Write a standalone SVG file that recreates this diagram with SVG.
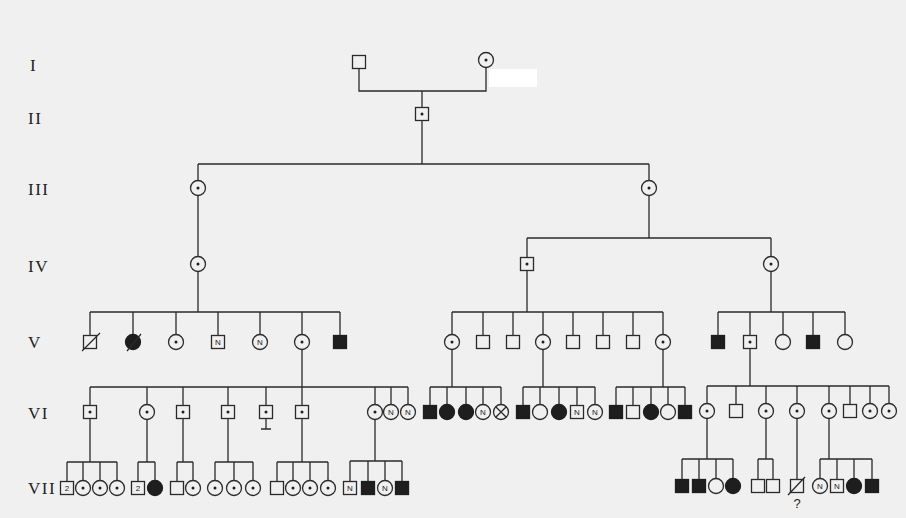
<svg xmlns="http://www.w3.org/2000/svg" width="906" height="518" viewBox="0 0 906 518">
<style>
.bg{fill:#f0f0f0}
.ln{fill:none;stroke:#2a2a2a;stroke-width:1.3}
.o{fill:#f0f0f0;stroke:#2a2a2a;stroke-width:1.3}
.f{fill:#1e1e1e;stroke:#1e1e1e;stroke-width:1.3}
.d{fill:#1e1e1e}
.gen{font-family:"Liberation Serif","Times New Roman",serif;font-size:17px;fill:#222;letter-spacing:1.5px}
.n{font-family:"Liberation Sans",Arial,sans-serif;font-size:8px;fill:#222;text-anchor:middle}
.q{font-family:"Liberation Sans",Arial,sans-serif;font-size:13px;fill:#222;text-anchor:middle}
</style>
<rect class="bg" x="0" y="0" width="906" height="518"/>
<rect x="489" y="69" width="48" height="18" fill="#ffffff"/>

<g id="gen-labels">
<text class="gen" x="30" y="71">I</text>
<text class="gen" x="28" y="124">II</text>
<text class="gen" x="28" y="195">III</text>
<text class="gen" x="28" y="272">IV</text>
<text class="gen" x="28" y="348">V</text>
<text class="gen" x="28" y="419">VI</text>
<text class="gen" x="28" y="494">VII</text>
</g>

<g id="connectors" class="ln">
<path d="M359,62 V91 H486 V60 M422,91 V164 M198,164 H649 M198,164 V188 M649,164 V188"/>
<path d="M198,188 V264 M198,264 V312 M90,312 H340 M90,312 V342 M133,312 V342 M176,312 V342 M218,312 V342 M260,312 V342 M302,312 V342 M340,312 V342"/>
<path d="M649,188 V238 M527,238 H771 M527,238 V264 M771,238 V264"/>
<path d="M527,264 V312 M452,312 H663 M452,312 V342 M483,312 V342 M513,312 V342 M543,312 V342 M573,312 V342 M603,312 V342 M633,312 V342 M663,312 V342"/>
<path d="M771,264 V312 M718,312 H845 M718,312 V342 M750,312 V342 M783,312 V342 M813,312 V342 M845,312 V342"/>
<path d="M302,342 V387 M90,387 H408 M90,387 V412 M147,387 V412 M183,387 V412 M228,387 V412 M266,387 V412 M302,387 V412 M375,387 V412 M391,387 V412 M408,387 V412"/>
<path d="M452,342 V387 M430,387 H501 M430,387 V412 M447,387 V412 M466,387 V412 M483,387 V412 M501,387 V412"/>
<path d="M543,342 V387 M523,387 H595 M523,387 V412 M540,387 V412 M559,387 V412 M577,387 V412 M595,387 V412"/>
<path d="M663,342 V387 M616,387 H685 M616,387 V412 M633,387 V412 M651,387 V412 M668,387 V412 M685,387 V412"/>
<path d="M750,342 V386 M707,386 H889 M707,386 V411 M736,386 V411 M766,386 V411 M797,386 V411 M829,386 V411 M850,386 V411 M870,386 V411 M889,386 V411"/>
<path d="M90,412 V462 M67,462 H117 M67,462 V488 M83,462 V488 M100,462 V488 M117,462 V488"/>
<path d="M147,412 V462 M138,462 H155 M138,462 V488 M155,462 V488"/>
<path d="M183,412 V462 M177,462 H193 M177,462 V488 M193,462 V488"/>
<path d="M228,412 V462 M215,462 H253 M215,462 V488 M234,462 V488 M253,462 V488"/>
<path d="M266,412 V429 M261,429 H271"/>
<path d="M302,412 V462 M277,462 H328 M277,462 V488 M293,462 V488 M310,462 V488 M328,462 V488"/>
<path d="M375,412 V461 M350,461 H402 M350,461 V488 M368,461 V488 M385,461 V488 M402,461 V488"/>
<path d="M707,411 V459 M682,459 H733 M682,459 V486 M699,459 V486 M716,459 V486 M733,459 V486"/>
<path d="M766,411 V459 M758,459 H773 M758,459 V486 M773,459 V486"/>
<path d="M797,411 V486"/>
<path d="M829,411 V459 M820,459 H872 M820,459 V486 M837,459 V486 M854,459 V486 M872,459 V486"/>
</g>

<!-- Generation I -->
<g id="I-1"><rect class="o" x="352.5" y="55.5" width="13" height="13"/></g>
<g id="I-2"><circle class="o" cx="486" cy="60" r="7.5"/><circle class="d" cx="486" cy="60" r="1.5"/></g>
<!-- Generation II -->
<g id="II-1"><rect class="o" x="415.5" y="107.5" width="13" height="13"/><circle class="d" cx="422" cy="114" r="1.5"/></g>
<!-- Generation III -->
<g id="III-1"><circle class="o" cx="198" cy="188" r="7.5"/><circle class="d" cx="198" cy="188" r="1.5"/></g>
<g id="III-2"><circle class="o" cx="649" cy="188" r="7.5"/><circle class="d" cx="649" cy="188" r="1.5"/></g>
<!-- Generation IV -->
<g id="IV-1"><circle class="o" cx="198" cy="264" r="7.5"/><circle class="d" cx="198" cy="264" r="1.5"/></g>
<g id="IV-2"><rect class="o" x="520.5" y="257.5" width="13" height="13"/><circle class="d" cx="527" cy="264" r="1.5"/></g>
<g id="IV-3"><circle class="o" cx="771" cy="264" r="7.5"/><circle class="d" cx="771" cy="264" r="1.5"/></g>
<!-- Generation V -->
<g id="V-1"><rect class="o" x="83.5" y="335.5" width="13" height="13"/><line class="ln" x1="82" y1="351" x2="100" y2="333"/></g>
<g id="V-2"><circle class="f" cx="133" cy="342" r="7.5"/><line class="ln" x1="127" y1="351" x2="141" y2="334"/></g>
<g id="V-3"><circle class="o" cx="176" cy="342" r="7.5"/><circle class="d" cx="176" cy="342" r="1.5"/></g>
<g id="V-4"><rect class="o" x="211.5" y="335.5" width="13" height="13"/><text class="n" x="218" y="345">N</text></g>
<g id="V-5"><circle class="o" cx="260" cy="342" r="7.5"/><text class="n" x="260" y="345">N</text></g>
<g id="V-6"><circle class="o" cx="302" cy="342" r="7.5"/><circle class="d" cx="302" cy="342" r="1.5"/></g>
<g id="V-7"><rect class="f" x="333.5" y="335.5" width="13" height="13"/></g>
<g id="V-8"><circle class="o" cx="452" cy="342" r="7.5"/><circle class="d" cx="452" cy="342" r="1.5"/></g>
<g id="V-9"><rect class="o" x="476.5" y="335.5" width="13" height="13"/></g>
<g id="V-10"><rect class="o" x="506.5" y="335.5" width="13" height="13"/></g>
<g id="V-11"><circle class="o" cx="543" cy="342" r="7.5"/><circle class="d" cx="543" cy="342" r="1.5"/></g>
<g id="V-12"><rect class="o" x="566.5" y="335.5" width="13" height="13"/></g>
<g id="V-13"><rect class="o" x="596.5" y="335.5" width="13" height="13"/></g>
<g id="V-14"><rect class="o" x="626.5" y="335.5" width="13" height="13"/></g>
<g id="V-15"><circle class="o" cx="663" cy="342" r="7.5"/><circle class="d" cx="663" cy="342" r="1.5"/></g>
<g id="V-16"><rect class="f" x="711.5" y="335.5" width="13" height="13"/></g>
<g id="V-17"><rect class="o" x="743.5" y="335.5" width="13" height="13"/><circle class="d" cx="750" cy="342" r="1.5"/></g>
<g id="V-18"><circle class="o" cx="783" cy="342" r="7.5"/></g>
<g id="V-19"><rect class="f" x="806.5" y="335.5" width="13" height="13"/></g>
<g id="V-20"><circle class="o" cx="845" cy="342" r="7.5"/></g>
<!-- Generation VI -->
<g id="VI-1"><rect class="o" x="83.5" y="405.5" width="13" height="13"/><circle class="d" cx="90" cy="412" r="1.5"/></g>
<g id="VI-2"><circle class="o" cx="147" cy="412" r="7.5"/><circle class="d" cx="147" cy="412" r="1.5"/></g>
<g id="VI-3"><rect class="o" x="176.5" y="405.5" width="13" height="13"/><circle class="d" cx="183" cy="412" r="1.5"/></g>
<g id="VI-4"><rect class="o" x="221.5" y="405.5" width="13" height="13"/><circle class="d" cx="228" cy="412" r="1.5"/></g>
<g id="VI-5"><rect class="o" x="259.5" y="405.5" width="13" height="13"/><circle class="d" cx="266" cy="412" r="1.5"/></g>
<g id="VI-6"><rect class="o" x="295.5" y="405.5" width="13" height="13"/><circle class="d" cx="302" cy="412" r="1.5"/></g>
<g id="VI-7"><circle class="o" cx="375" cy="412" r="7.5"/><circle class="d" cx="375" cy="412" r="1.5"/></g>
<g id="VI-8"><circle class="o" cx="391" cy="412" r="7.5"/><text class="n" x="391" y="415">N</text></g>
<g id="VI-9"><circle class="o" cx="408" cy="412" r="7.5"/><text class="n" x="408" y="415">N</text></g>
<g id="VI-10"><rect class="f" x="423.5" y="405.5" width="13" height="13"/></g>
<g id="VI-11"><circle class="f" cx="447" cy="412" r="7.5"/></g>
<g id="VI-12"><circle class="f" cx="466" cy="412" r="7.5"/></g>
<g id="VI-13"><circle class="o" cx="483" cy="412" r="7.5"/><text class="n" x="483" y="415">N</text></g>
<g id="VI-14"><circle class="o" cx="501" cy="412" r="7.5"/><path class="ln" d="M495.7,406.7 L506.3,417.3 M506.3,406.7 L495.7,417.3"/></g>
<g id="VI-15"><rect class="f" x="516.5" y="405.5" width="13" height="13"/></g>
<g id="VI-16"><circle class="o" cx="540" cy="412" r="7.5"/></g>
<g id="VI-17"><circle class="f" cx="559" cy="412" r="7.5"/></g>
<g id="VI-18"><rect class="o" x="570.5" y="405.5" width="13" height="13"/><text class="n" x="577" y="415">N</text></g>
<g id="VI-19"><circle class="o" cx="595" cy="412" r="7.5"/><text class="n" x="595" y="415">N</text></g>
<g id="VI-20"><rect class="f" x="609.5" y="405.5" width="13" height="13"/></g>
<g id="VI-21"><rect class="o" x="626.5" y="405.5" width="13" height="13"/></g>
<g id="VI-22"><circle class="f" cx="651" cy="412" r="7.5"/></g>
<g id="VI-23"><circle class="o" cx="668" cy="412" r="7.5"/></g>
<g id="VI-24"><rect class="f" x="678.5" y="405.5" width="13" height="13"/></g>
<g id="VI-25"><circle class="o" cx="707" cy="411" r="7.5"/><circle class="d" cx="707" cy="411" r="1.5"/></g>
<g id="VI-26"><rect class="o" x="729.5" y="404.5" width="13" height="13"/></g>
<g id="VI-27"><circle class="o" cx="766" cy="411" r="7.5"/><circle class="d" cx="766" cy="411" r="1.5"/></g>
<g id="VI-28"><circle class="o" cx="797" cy="411" r="7.5"/><circle class="d" cx="797" cy="411" r="1.5"/></g>
<g id="VI-29"><circle class="o" cx="829" cy="411" r="7.5"/><circle class="d" cx="829" cy="411" r="1.5"/></g>
<g id="VI-30"><rect class="o" x="843.5" y="404.5" width="13" height="13"/></g>
<g id="VI-31"><circle class="o" cx="870" cy="411" r="7.5"/><circle class="d" cx="870" cy="411" r="1.5"/></g>
<g id="VI-32"><circle class="o" cx="889" cy="411" r="7.5"/><circle class="d" cx="889" cy="411" r="1.5"/></g>
<!-- Generation VII -->
<g id="VII-1"><rect class="o" x="60.5" y="481.5" width="13" height="13"/><text class="n" x="67" y="491">2</text></g>
<g id="VII-2"><circle class="o" cx="83" cy="488" r="7.5"/><circle class="d" cx="83" cy="488" r="1.5"/></g>
<g id="VII-3"><circle class="o" cx="100" cy="488" r="7.5"/><circle class="d" cx="100" cy="488" r="1.5"/></g>
<g id="VII-4"><circle class="o" cx="117" cy="488" r="7.5"/><circle class="d" cx="117" cy="488" r="1.5"/></g>
<g id="VII-5"><rect class="o" x="131.5" y="481.5" width="13" height="13"/><text class="n" x="138" y="491">2</text></g>
<g id="VII-6"><circle class="f" cx="155" cy="488" r="7.5"/></g>
<g id="VII-7"><rect class="o" x="170.5" y="481.5" width="13" height="13"/></g>
<g id="VII-8"><circle class="o" cx="193" cy="488" r="7.5"/><circle class="d" cx="193" cy="488" r="1.5"/></g>
<g id="VII-9"><circle class="o" cx="215" cy="488" r="7.5"/><circle class="d" cx="215" cy="488" r="1.5"/></g>
<g id="VII-10"><circle class="o" cx="234" cy="488" r="7.5"/><circle class="d" cx="234" cy="488" r="1.5"/></g>
<g id="VII-11"><circle class="o" cx="253" cy="488" r="7.5"/><circle class="d" cx="253" cy="488" r="1.5"/></g>
<g id="VII-12"><rect class="o" x="270.5" y="481.5" width="13" height="13"/></g>
<g id="VII-13"><circle class="o" cx="293" cy="488" r="7.5"/><circle class="d" cx="293" cy="488" r="1.5"/></g>
<g id="VII-14"><circle class="o" cx="310" cy="488" r="7.5"/><circle class="d" cx="310" cy="488" r="1.5"/></g>
<g id="VII-15"><circle class="o" cx="328" cy="488" r="7.5"/><circle class="d" cx="328" cy="488" r="1.5"/></g>
<g id="VII-16"><rect class="o" x="343.5" y="481.5" width="13" height="13"/><text class="n" x="350" y="491">N</text></g>
<g id="VII-17"><rect class="f" x="361.5" y="481.5" width="13" height="13"/></g>
<g id="VII-18"><circle class="o" cx="385" cy="488" r="7.5"/><text class="n" x="385" y="491">N</text></g>
<g id="VII-19"><rect class="f" x="395.5" y="481.5" width="13" height="13"/></g>
<g id="VII-20"><rect class="f" x="675.5" y="479.5" width="13" height="13"/></g>
<g id="VII-21"><rect class="f" x="692.5" y="479.5" width="13" height="13"/></g>
<g id="VII-22"><circle class="o" cx="716" cy="486" r="7.5"/></g>
<g id="VII-23"><circle class="f" cx="733" cy="486" r="7.5"/></g>
<g id="VII-24"><rect class="o" x="751.5" y="479.5" width="13" height="13"/></g>
<g id="VII-25"><rect class="o" x="766.5" y="479.5" width="13" height="13"/></g>
<g id="VII-26"><rect class="o" x="790.5" y="479.5" width="13" height="13"/><line class="ln" x1="788" y1="495" x2="805" y2="477"/><text class="q" x="797" y="508">?</text></g>
<g id="VII-27"><circle class="o" cx="820" cy="486" r="7.5"/><text class="n" x="820" y="489">N</text></g>
<g id="VII-28"><rect class="o" x="830.5" y="479.5" width="13" height="13"/><text class="n" x="837" y="489">N</text></g>
<g id="VII-29"><circle class="f" cx="854" cy="486" r="7.5"/></g>
<g id="VII-30"><rect class="f" x="865.5" y="479.5" width="13" height="13"/></g>
</svg>
